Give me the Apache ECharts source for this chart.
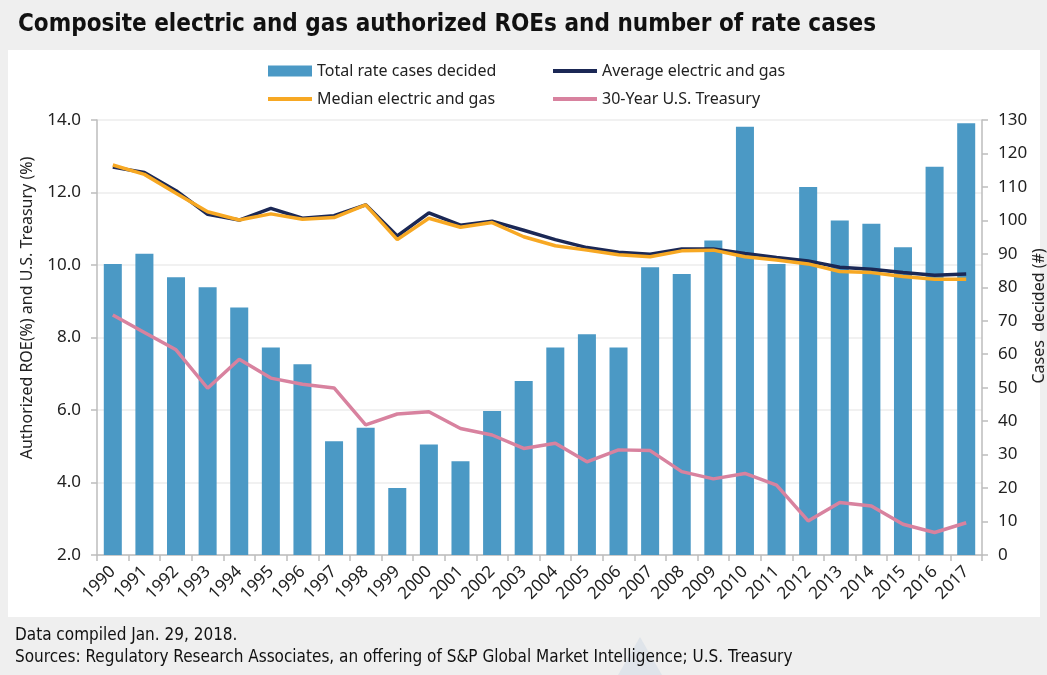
<!DOCTYPE html>
<html>
<head>
<meta charset="utf-8">
<script src="https://cdn.jsdelivr.net/npm/echarts@6/dist/echarts.min.js"></script>
<style>
html,body{margin:0;padding:0;background:#efefef;}
#chart{width:1047px;height:675px;}
</style>
</head>
<body>
<div id="chart"></div>
<script>
const years = ['1990','1991','1992','1993','1994','1995','1996','1997','1998','1999','2000','2001','2002','2003','2004','2005','2006','2007','2008','2009','2010','2011','2012','2013','2014','2015','2016','2017'];
const rateCases = [87,90,83,80,74,62,57,34,38,20,33,28,43,52,62,66,62,86,84,94,128,87,110,100,99,92,116,129];
const avgROE = [12.70,12.55,12.05,11.40,11.24,11.56,11.29,11.36,11.66,10.80,11.44,11.10,11.21,10.96,10.70,10.48,10.35,10.30,10.44,10.44,10.32,10.21,10.11,9.94,9.88,9.79,9.72,9.75];
const medROE = [12.76,12.50,11.98,11.47,11.24,11.41,11.26,11.31,11.66,10.70,11.29,11.04,11.17,10.78,10.53,10.41,10.28,10.23,10.39,10.41,10.23,10.14,10.03,9.82,9.79,9.68,9.61,9.61];
const treasury = [8.62,8.14,7.66,6.60,7.40,6.88,6.71,6.61,5.59,5.89,5.95,5.49,5.31,4.94,5.08,4.57,4.90,4.88,4.30,4.10,4.25,3.93,2.94,3.45,3.35,2.85,2.62,2.89];
const leftTicks = {min:2, max:14, interval:2};
const rightTicks = {min:0, max:130, interval:10};

const FONT = '"Noto Sans", "Open Sans", sans-serif';
const NARROW = '"DejaVu Sans Condensed", sans-serif';
const C_BAR = '#4b99c5', C_AVG = '#1b2855', C_MED = '#f7a823', C_TSY = '#d8829f';

const chart = echarts.init(document.getElementById('chart'), null, {renderer:'canvas'});
function leg(name, left, top, h){
  return {data:[name], left:left, top:top, padding:0, icon:'rect', itemWidth:44, itemHeight:h, itemGap:0,
    textStyle:{fontFamily:FONT, fontSize:16, color:'#222'}, selectedMode:false};
}
chart.setOption({
  backgroundColor:'#efefef',
  animation:false,
  title:{text:'Composite electric and gas authorized ROEs and number of rate cases', left:18, top:13, padding:0,
    textStyle:{fontFamily:NARROW, fontWeight:'bold', fontSize:24, color:'#111'}},
  graphic:[
    {type:'rect', shape:{x:8,y:50,width:1032,height:567}, style:{fill:'#ffffff'}, z:-10},
    {type:'polygon', shape:{points:[[640,637],[618,675],[662,675]]}, style:{fill:'#dfe4ea'}, z:-10},
    {type:'text', x:27, y:308, rotation:Math.PI/2, style:{text:'Authorized ROE(%) and U.S. Treasury (%)', fontFamily:FONT, fontSize:16, fill:'#222', align:'center', verticalAlign:'middle'}},
    {type:'text', x:1039, y:316, rotation:Math.PI/2, style:{text:'Cases  decided (#)', fontFamily:FONT, fontSize:16, fill:'#222', align:'center', verticalAlign:'middle'}},
    {type:'text', x:15, y:636, style:{text:'Data compiled Jan. 29, 2018.', fontFamily:NARROW, fontSize:17, fill:'#111', verticalAlign:'middle'}},
    {type:'text', x:15, y:658, style:{text:'Sources: Regulatory Research Associates, an offering of S&P Global Market Intelligence; U.S. Treasury', fontFamily:NARROW, fontSize:17, fill:'#111', verticalAlign:'middle'}}
  ],
  legend:[
    leg('Total rate cases decided', 268, 63, 11),
    leg('Average electric and gas', 553, 63, 4),
    leg('Median electric and gas', 268, 91, 4),
    leg('30-Year U.S. Treasury', 553, 91, 4)
  ],
  grid:{left:97, right:65, top:120, bottom:120, containLabel:false},
  xAxis:{type:'category', data:years, boundaryGap:true,
    axisLine:{lineStyle:{color:'#bdbdbd', width:1.5}},
    axisTick:{show:true, alignWithLabel:false, length:6, lineStyle:{color:'#bdbdbd', width:1.5}},
    axisLabel:{rotate:45, interval:0, fontFamily:FONT, fontSize:17, color:'#222', margin:14}},
  yAxis:[
    {type:'value', min:leftTicks.min, max:leftTicks.max, interval:leftTicks.interval,
     axisLine:{show:true, lineStyle:{color:'#bdbdbd', width:1.5}},
     axisTick:{show:true, length:6, lineStyle:{color:'#bdbdbd', width:1.5}},
     splitLine:{show:true, lineStyle:{color:'#ececec', width:1.5}},
     axisLabel:{formatter:v=>v.toFixed(1), fontFamily:FONT, fontSize:17, color:'#222', margin:16}},
    {type:'value', min:rightTicks.min, max:rightTicks.max, interval:rightTicks.interval, position:'right',
     axisLine:{show:true, lineStyle:{color:'#bdbdbd', width:1.5}},
     axisTick:{show:true, length:6, lineStyle:{color:'#bdbdbd', width:1.5}},
     splitLine:{show:false},
     axisLabel:{fontFamily:FONT, fontSize:17, color:'#222', margin:16}}
  ],
  series:[
    {name:'Total rate cases decided', type:'bar', yAxisIndex:1, data:rateCases, barWidth:'57%',
     itemStyle:{color:C_BAR}},
    {name:'Average electric and gas', type:'line', yAxisIndex:0, data:avgROE, symbol:'none',
     lineStyle:{color:C_AVG, width:3.5}, itemStyle:{color:C_AVG}},
    {name:'Median electric and gas', type:'line', yAxisIndex:0, data:medROE, symbol:'none',
     lineStyle:{color:C_MED, width:3.5}, itemStyle:{color:C_MED}},
    {name:'30-Year U.S. Treasury', type:'line', yAxisIndex:0, data:treasury, symbol:'none',
     lineStyle:{color:C_TSY, width:3.5}, itemStyle:{color:C_TSY}}
  ]
});
</script>
</body>
</html>
